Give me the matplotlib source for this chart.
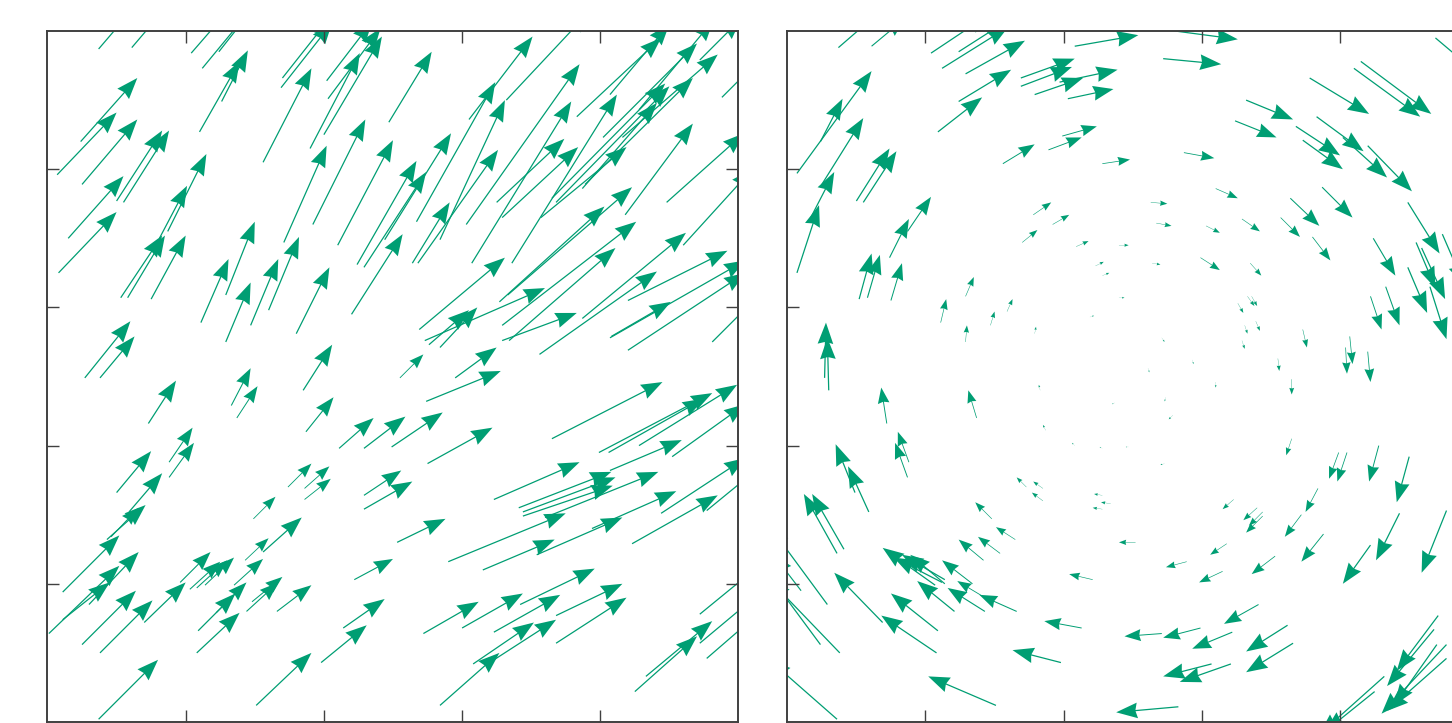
import matplotlib
matplotlib.use("Agg")
import matplotlib.pyplot as plt

# ==============================================================================
# 1. DATOS: colas (x, y) y componentes (u, v) de cada flecha
# ==============================================================================
# Panel izquierdo: flujo hacia arriba-derecha
left_x = [
    0.37, 0.61, 1.04, 1.12, 1.24, 1.10, 1.26, 0.24, 0.07, 0.25,
    0.50, 0.55, 0.15, 0.08, 0.87, 0.81, 0.53, 0.58, 0.75, 1.11,
    1.29, 1.29, 1.47, 1.60, 1.80, 1.56, 1.71, 1.90, 2.00, 1.92,
    2.10, 1.70, 1.69, 2.02, 2.03, 0.27, 0.38, 1.85, 1.33, 1.37,
    0.73, 0.88, 0.88, 0.50, 0.59, 0.43, 0.46, 0.11, 0.30, 0.01,
    0.11, 0.25, 0.38, 0.70, 0.37, 0.96, 1.03, 1.08, 1.14, 1.09,
    1.08, 1.22, 1.35, 1.43, 1.49, 1.56, 1.74, 1.86, 1.86, 1.48,
    1.44, 1.66, 1.51, 1.87, 2.11, 2.29, 2.29, 2.29, 2.22, 2.14,
    1.98, 2.74, 2.49, 2.53, 2.75, 3.65, 3.99, 4.06, 4.28, 4.07,
    4.52, 3.23, 3.41, 3.44, 3.44, 3.60, 2.90, 3.94, 4.44, 3.54,
    3.15, 4.23, 4.77, 3.42, 3.68, 3.68, 2.72, 3.00, 3.23, 3.08,
    3.20, 2.84, 4.33, 4.25, 4.72, 4.72, 4.77, 2.47, 3.05, 2.67,
    2.84, 3.03, 3.07, 3.36, 3.83, 4.02, 4.16, 3.65, 3.68, 3.87,
    3.89, 4.18, 2.44, 2.24, 2.29, 2.68, 3.25, 3.29, 3.57, 2.64,
    3.33, 3.27, 3.29, 3.34, 3.87, 4.20, 3.56, 4.08, 3.29, 2.73,
    2.76, 2.84, 2.95, 2.55, 2.69, 4.48, 4.60, 4.81, 4.88, 4.07,
    4.20, 3.32, 4.07, 4.28, 4.72, 2.20,
]
left_y = [
    4.87, 4.88, 4.84, 4.73, 4.85, 4.27, 4.49, 4.20, 3.96, 3.89,
    3.77, 3.76, 3.50, 3.25, 3.55, 3.50, 3.07, 3.07, 3.06, 2.89,
    3.09, 2.75, 2.87, 2.98, 2.81, 4.05, 3.47, 4.15, 4.25, 3.60,
    3.45, 4.66, 4.59, 4.64, 4.51, 2.49, 2.49, 2.40, 2.29, 2.20,
    2.16, 1.88, 1.77, 1.66, 1.52, 1.32, 1.34, 0.94, 0.85, 0.64,
    0.74, 0.56, 0.50, 0.72, 0.02, 1.01, 0.96, 0.97, 0.99, 0.66,
    0.50, 0.79, 0.99, 1.17, 1.47, 1.23, 1.70, 1.69, 1.61, 0.87,
    0.80, 0.80, 0.12, 2.10, 1.98, 1.98, 1.64, 1.54, 1.03, 0.68,
    0.43, 2.32, 1.99, 1.30, 1.87, 2.05, 1.95, 1.95, 2.00, 1.82,
    1.92, 1.61, 1.55, 1.52, 1.49, 1.48, 1.16, 1.40, 1.51, 1.21,
    1.10, 1.29, 1.53, 0.85, 0.77, 0.57, 0.64, 0.68, 0.65, 0.42,
    0.43, 0.12, 0.33, 0.22, 0.78, 0.57, 0.46, 4.34, 4.36, 3.62,
    3.49, 3.60, 3.32, 3.32, 4.38, 4.23, 4.23, 3.79, 3.76, 3.86,
    3.89, 3.67, 3.49, 3.31, 3.29, 3.32, 3.76, 3.65, 3.65, 3.32,
    3.09, 3.04, 2.87, 2.76, 2.92, 3.05, 2.66, 2.79, 2.76, 2.76,
    2.73, 2.71, 2.49, 2.49, 2.84, 3.76, 3.45, 2.75, 4.52, 2.78,
    2.69, 4.50, 4.54, 4.43, 4.79, 2.95,
]
left_u = [
    0.30, 0.29, 0.33, 0.38, 0.30, 0.29, 0.19, 0.41, 0.43, 0.40,
    0.33, 0.33, 0.40, 0.42, 0.28, 0.20, 0.30, 0.27, 0.25, 0.20,
    0.21, 0.18, 0.20, 0.22, 0.24, 0.35, 0.31, 0.36, 0.42, 0.38,
    0.40, 0.34, 0.37, 0.33, 0.38, 0.33, 0.25, 0.21, 0.14, 0.15,
    0.20, 0.17, 0.18, 0.25, 0.24, 0.28, 0.20, 0.41, 0.36, 0.51,
    0.34, 0.39, 0.38, 0.30, 0.43, 0.22, 0.22, 0.22, 0.21, 0.27,
    0.31, 0.22, 0.21, 0.17, 0.16, 0.28, 0.17, 0.18, 0.19, 0.22,
    0.23, 0.25, 0.40, 0.20, 0.25, 0.30, 0.27, 0.35, 0.28, 0.30,
    0.33, 0.54, 0.37, 0.35, 0.47, 0.80, 0.82, 0.69, 0.71, 0.52,
    0.53, 0.62, 0.67, 0.67, 0.65, 0.82, 0.85, 0.61, 0.61, 0.62,
    0.52, 0.62, 0.55, 0.54, 0.48, 0.51, 0.40, 0.44, 0.48, 0.44,
    0.48, 0.43, 0.48, 0.45, 0.55, 0.55, 0.52, 0.31, 0.46, 0.57,
    0.47, 0.82, 0.72, 0.76, 0.61, 0.68, 0.69, 0.82, 0.82, 0.54,
    0.78, 0.49, 0.48, 0.43, 0.45, 0.58, 0.49, 0.55, 0.62, 0.27,
    0.90, 0.76, 0.97, 0.77, 0.75, 0.72, 0.85, 0.43, 0.54, 0.87,
    0.29, 0.27, 0.30, 0.17, 0.62, 0.56, 0.50, 0.40, 0.35, 0.98,
    0.85, 0.60, 0.43, 0.54, 0.30, 0.37,
]
left_v = [
    0.35, 0.34, 0.38, 0.46, 0.38, 0.51, 0.37, 0.46, 0.45, 0.47,
    0.51, 0.52, 0.45, 0.44, 0.56, 0.38, 0.45, 0.45, 0.46, 0.46,
    0.53, 0.43, 0.48, 0.53, 0.48, 0.68, 0.70, 0.69, 0.71, 0.76,
    0.76, 0.43, 0.47, 0.43, 0.51, 0.41, 0.30, 0.33, 0.27, 0.23,
    0.31, 0.25, 0.25, 0.30, 0.28, 0.25, 0.21, 0.41, 0.38, 0.49,
    0.27, 0.39, 0.38, 0.29, 0.43, 0.22, 0.20, 0.20, 0.20, 0.27,
    0.29, 0.22, 0.19, 0.16, 0.16, 0.25, 0.17, 0.16, 0.15, 0.18,
    0.21, 0.19, 0.38, 0.25, 0.22, 0.23, 0.18, 0.20, 0.15, 0.21,
    0.27, 0.22, 0.25, 0.17, 0.26, 0.41, 0.43, 0.39, 0.44, 0.22,
    0.38, 0.27, 0.26, 0.25, 0.22, 0.33, 0.35, 0.27, 0.40, 0.27,
    0.22, 0.35, 0.45, 0.26, 0.23, 0.33, 0.23, 0.25, 0.27, 0.30,
    0.31, 0.38, 0.40, 0.40, 0.45, 0.46, 0.45, 0.51, 0.60, 1.01,
    1.01, 1.16, 1.17, 1.22, 0.57, 0.68, 0.60, 0.83, 0.84, 0.62,
    0.77, 0.66, 0.77, 0.75, 0.69, 0.82, 0.46, 0.51, 0.51, 0.44,
    0.78, 0.69, 0.75, 0.67, 0.62, 0.36, 0.60, 0.25, 0.20, 0.38,
    0.25, 0.29, 0.22, 0.17, 0.52, 0.50, 0.55, 0.40, 0.35, 0.56,
    0.56, 0.64, 0.51, 0.65, 0.30, 0.58,
]

# Panel derecho: vórtice en sentido horario
right_x = [
    0.37, 0.61, 1.04, 1.12, 1.24, 1.29, 1.24, 1.09, 1.69, 1.69,
    1.79, 2.08, 1.97, 2.03, 1.99, 1.89, 1.56, 2.28, 0.07, 0.24,
    0.25, 0.50, 0.55, 0.17, 0.07, 0.87, 0.74, 0.52, 0.58, 0.75,
    1.29, 1.11, 1.47, 1.59, 1.29, 1.79, 1.78, 1.92, 1.70, 2.09,
    2.23, 2.28, 2.19, 0.27, 0.30, 2.73, 2.72, 2.87, 3.32, 3.24,
    3.78, 4.10, 4.15, 4.69, 3.68, 3.83, 3.73, 4.02, 4.20, 3.10,
    2.63, 2.67, 3.03, 3.29, 3.64, 3.57, 3.87, 3.80, 2.40, 2.64,
    2.99, 3.35, 2.40, 3.26, 3.33, 3.36, 3.31, 3.39, 3.29, 3.73,
    3.55, 2.71, 2.93, 2.61, 4.24, 4.49, 4.74, 4.59, 4.55, 4.49,
    4.65, 4.33, 4.22, 4.07, 4.04, 4.20, 3.65, 3.10, 2.74, 2.37,
    2.79, 2.47, 2.73, 3.65, 3.99, 4.05, 4.28, 4.50, 3.84, 3.72,
    3.88, 4.43, 4.77, 4.22, 3.23, 3.40, 3.44, 3.44, 2.52, 3.18,
    2.89, 3.15, 3.53, 3.41, 3.62, 3.66, 2.71, 2.99, 3.22, 3.07,
    3.21, 2.83, 4.71, 4.68, 4.70, 4.77, 4.77, 4.32, 4.25, 0.72,
    1.37, 1.83, 1.87, 2.08, 2.28, 0.88, 0.87, 0.49, 0.59, 0.36,
    0.41, 1.73, 1.85, 1.85, 2.28, 2.34, 2.28, 1.48, 1.65, 1.54,
    1.42, 1.07, 1.12, 1.14, 1.14, 1.21, 1.34, 1.43, 1.43, 1.66,
    0.69, 1.09, 1.08, 2.21, 2.13, 1.98, 1.51, 0.29, 0.10, 0.24,
    0.38, 0.36,
]
right_y = [
    4.88, 4.89, 4.84, 4.73, 4.85, 4.69, 4.49, 4.27, 4.66, 4.60,
    4.54, 4.89, 4.63, 4.51, 4.24, 4.14, 4.04, 4.04, 3.97, 4.20,
    3.89, 3.77, 3.76, 3.65, 3.25, 3.55, 3.36, 3.06, 3.07, 3.05,
    3.08, 2.89, 2.87, 2.97, 2.75, 2.81, 3.67, 3.60, 3.47, 3.44,
    3.30, 3.23, 2.93, 2.49, 2.40, 5.01, 4.80, 4.12, 4.50, 4.35,
    4.66, 4.73, 4.78, 4.95, 4.31, 4.38, 4.21, 4.23, 4.17, 3.86,
    3.76, 3.61, 3.59, 3.64, 3.79, 3.65, 3.87, 3.51, 3.45, 3.32,
    3.36, 3.32, 3.07, 3.03, 3.08, 3.08, 2.87, 2.90, 2.76, 2.84,
    2.63, 2.78, 2.62, 2.56, 3.50, 3.76, 3.53, 3.43, 3.47, 3.29,
    3.15, 3.15, 3.08, 2.79, 2.71, 2.68, 2.48, 2.46, 2.35, 2.31,
    2.22, 1.99, 1.87, 2.05, 1.95, 1.95, 2.00, 1.92, 1.69, 1.50,
    1.36, 1.51, 1.53, 1.28, 1.61, 1.55, 1.52, 1.49, 1.30, 1.29,
    1.16, 1.09, 1.20, 0.85, 0.70, 0.57, 0.64, 0.68, 0.65, 0.42,
    0.42, 0.11, 0.77, 0.67, 0.56, 0.56, 0.46, 0.33, 0.22, 2.16,
    2.20, 2.40, 2.11, 2.00, 1.98, 1.88, 1.77, 1.66, 1.52, 1.22,
    1.25, 1.70, 1.69, 1.60, 1.64, 1.58, 1.54, 1.47, 1.32, 1.22,
    1.17, 0.99, 1.01, 1.03, 1.00, 0.80, 1.00, 0.80, 0.90, 0.80,
    0.72, 0.66, 0.50, 1.03, 0.68, 0.43, 0.12, 0.85, 0.95, 0.56,
    0.50, 0.02,
]
right_u = [
    0.30, 0.24, 0.42, 0.48, 0.36, 0.43, 0.38, 0.32, 0.39, 0.37,
    0.35, 0.46, 0.42, 0.33, 0.25, 0.24, 0.23, 0.20, 0.54, 0.16,
    0.30, 0.24, 0.24, 0.17, 0.16, 0.17, 0.14, 0.09, 0.09, 0.08,
    0.06, 0.04, 0.03, 0.04, 0.01, 0.01, 0.13, 0.12, 0.11, 0.09,
    0.06, 0.05, 0.03, 0.01, -0.01, 0.53, 0.42, 0.22, 0.34, 0.30,
    0.43, 0.48, 0.51, 0.32, 0.32, 0.34, 0.29, 0.32, 0.32, 0.16,
    0.12, 0.11, 0.10, 0.13, 0.21, 0.14, 0.22, 0.13, 0.07, 0.06,
    0.14, 0.08, 0.04, 0.04, 0.05, 0.04, 0.02, 0.03, 0.02, 0.03,
    0.01, 0.02, 0.01, 0.01, 0.16, 0.23, 0.16, 0.17, 0.14, 0.14,
    0.12, 0.10, 0.08, 0.02, 0.01, 0.02, 0.00, 0.00, -0.01, -0.02,
    -0.03, -0.02, -0.03, -0.04, -0.07, -0.07, -0.07, -0.09, -0.09, -0.12,
    -0.16, -0.17, -0.18, -0.20, -0.08, -0.10, -0.10, -0.12, -0.12, -0.12,
    -0.15, -0.17, -0.17, -0.25, -0.30, -0.34, -0.27, -0.27, -0.29, -0.35,
    -0.37, -0.45, -0.30, -0.34, -0.31, -0.47, -0.43, -0.47, -0.36, -0.04,
    -0.06, -0.01, -0.02, -0.02, -0.02, -0.08, -0.09, -0.14, -0.15, -0.24,
    -0.23, -0.07, -0.07, -0.08, -0.06, -0.07, -0.07, -0.12, -0.14, -0.16,
    -0.18, -0.38, -0.35, -0.31, -0.25, -0.27, -0.22, -0.27, -0.20, -0.27,
    -0.35, -0.34, -0.40, -0.17, -0.27, -0.35, -0.49, -0.42, -0.20, -0.37,
    -0.51, -0.49,
]
right_v = [
    0.26, 0.20, 0.28, 0.30, 0.23, 0.24, 0.23, 0.25, 0.14, 0.14,
    0.12, 0.08, 0.09, 0.07, 0.07, 0.09, 0.14, 0.03, 0.74, 0.31,
    0.48, 0.38, 0.37, 0.33, 0.49, 0.25, 0.28, 0.33, 0.31, 0.27,
    0.14, 0.17, 0.10, 0.09, 0.12, 0.05, 0.09, 0.07, 0.09, 0.04,
    0.03, 0.02, 0.01, 0.40, 0.38, -0.07, -0.04, -0.04, -0.14, -0.12,
    -0.26, -0.35, -0.38, -0.27, -0.21, -0.25, -0.21, -0.29, -0.33, -0.07,
    -0.01, -0.02, -0.05, -0.09, -0.20, -0.14, -0.22, -0.17, 0.00, -0.01,
    -0.09, -0.09, 0.00, -0.07, -0.07, -0.07, -0.06, -0.07, -0.06, -0.13,
    -0.09, -0.03, -0.03, -0.03, -0.27, -0.37, -0.37, -0.37, -0.33, -0.33,
    -0.38, -0.28, -0.24, -0.20, -0.19, -0.22, -0.11, -0.04, -0.03, -0.01,
    -0.03, 0.00, -0.01, -0.12, -0.19, -0.21, -0.26, -0.33, -0.17, -0.16,
    -0.20, -0.34, -0.45, -0.28, -0.07, -0.09, -0.10, -0.12, 0.00, -0.08,
    -0.04, -0.08, -0.13, -0.14, -0.19, -0.21, -0.02, -0.07, -0.12, -0.09,
    -0.13, -0.04, -0.40, -0.41, -0.44, -0.50, -0.38, -0.42, -0.29, 0.26,
    0.20, 0.04, 0.04, 0.02, 0.01, 0.22, 0.25, 0.35, 0.33, 0.43,
    0.40, 0.07, 0.05, 0.06, 0.01, 0.01, 0.01, 0.12, 0.09, 0.12,
    0.15, 0.27, 0.18, 0.18, 0.21, 0.22, 0.17, 0.17, 0.12, 0.12,
    0.36, 0.27, 0.27, 0.04, 0.05, 0.09, 0.21, 0.57, 0.26, 0.50,
    0.53, 0.43,
]

ticks = [1, 2, 3, 4]
color_flecha = '#009E73'
color_marco = '#404040'

# ==============================================================================
# 2. FIGURA: dos paneles cuadrados, el derecho recortado por el borde
# ==============================================================================
fig = plt.figure(figsize=(14.52, 7.23), dpi=100)
ax_izq = fig.add_axes([0.0327, 0.0014, 0.4759, 0.9557])
ax_der = fig.add_axes([0.5422, 0.0014, 0.4759, 0.9557])

paneles = [
    (ax_izq, left_x, left_y, left_u, left_v),
    (ax_der, right_x, right_y, right_u, right_v),
]

for ax, x, y, u, v in paneles:
    # flechas en unidades de datos; cabeza fija en píxeles, se encoge en flechas cortas
    ax.quiver(x, y, u, v, angles='xy', scale_units='xy', scale=1,
              units='dots', width=1.25, headwidth=12.5, headlength=17,
              headaxislength=15.5, minshaft=2.3, color=color_flecha)
    ax.set_xlim(0, 5)
    ax.set_ylim(0, 5)
    ax.set_xticks(ticks)
    ax.set_yticks(ticks)
    ax.tick_params(direction='in', length=8.6, width=1.0, color=color_marco,
                   top=True, right=True, labelbottom=False, labelleft=False)
    for spine in ax.spines.values():
        spine.set_linewidth(1.4)
        spine.set_color(color_marco)

fig.savefig('out.png', dpi=100)
